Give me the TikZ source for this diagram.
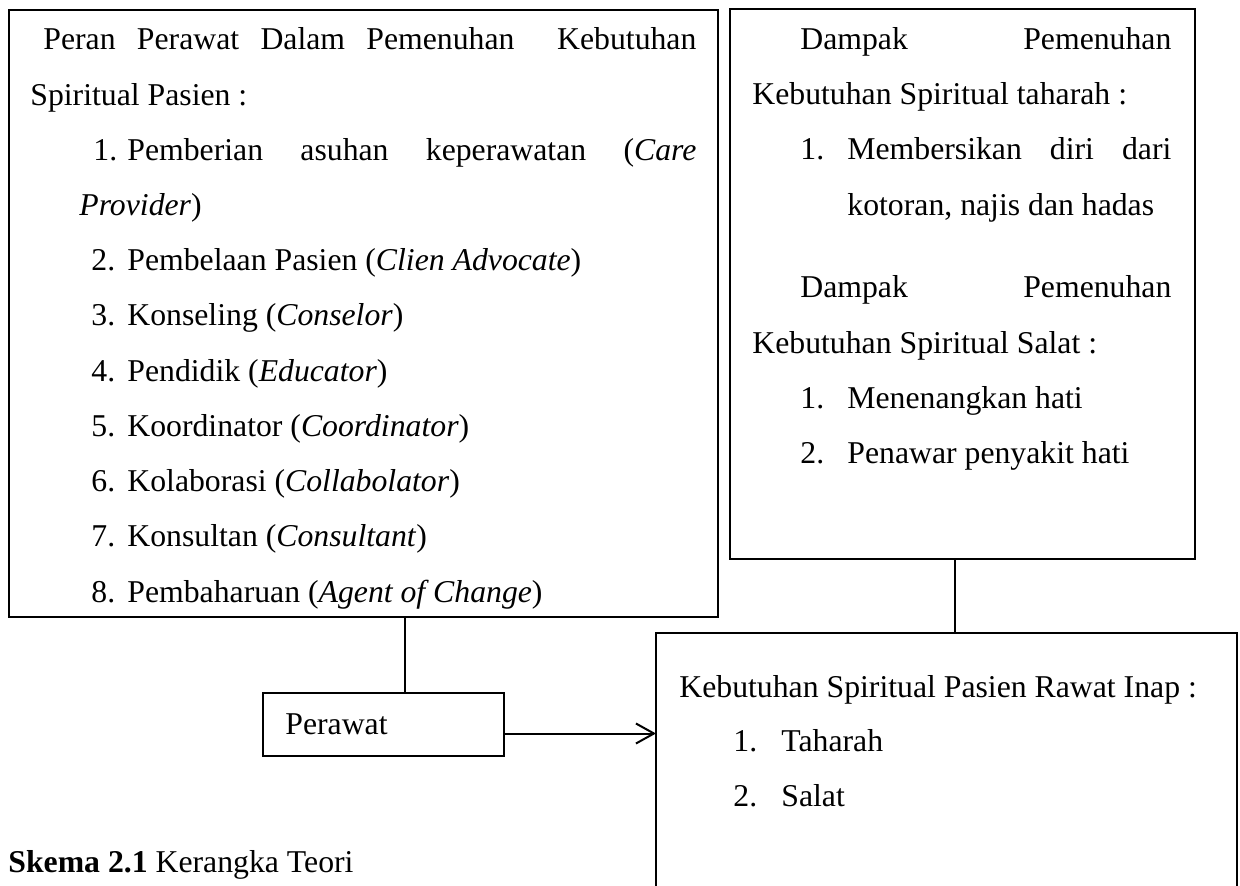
\documentclass[tikz,border=0pt]{standalone}
\usepackage{fontspec}
\setmainfont{Liberation Serif}
\usetikzlibrary{arrows.meta}
\newcommand{\spreadline}[2]{\makebox[#1][s]{#2}}
\tikzset{box/.style={draw=black,line width=1.2pt,inner sep=0pt,outer sep=0pt},
 link/.style={draw=black,line width=1pt},
 txt/.style={anchor=base west,inner sep=0pt,font=\fontsize{15.87pt}{27.6pt}\selectfont},
 every picture/.style={line join=miter}}

\begin{document}
\begin{tikzpicture}[x=0.5pt,y=-0.5pt]
\useasboundingbox (0,0) rectangle (1240,886);
\clip (0,0) rectangle (1240,886);
% boxes
\node[box,minimum width=354.5pt,minimum height=303.5pt] (peran) at (363.5,313.5) {};
\node[box,minimum width=232.5pt,minimum height=275pt] (dampak) at (962.5,284) {};
\node[box,minimum width=120.5pt,minimum height=31.5pt] (perawat) at (383.5,724.5) {};
\node[box,minimum width=290.5pt,minimum height=143.5pt] (kebutuhan) at (946.5,776.5) {};
% left box
\node[txt] (peran0) at (43,50) {\spreadline{326.5pt}{Peran Perawat Dalam Pemenuhan\ \ Kebutuhan}};
\node[txt] (peran1) at (30,105.2) {Spiritual Pasien :};
\node[txt] (peran2n) at (93,160.4) {1.};
\node[txt] (peran2) at (127,160.4) {\spreadline{284.5pt}{Pemberian asuhan keperawatan (\textit{Care}}};
\node[txt] (peran3) at (79,215.6) {\textit{Provider})};
\node[txt] (peran4n) at (91,270.8) {2.};
\node[txt] (peran4) at (127,270.8) {Pembelaan Pasien (\textit{Clien Advocate})};
\node[txt] (peran5n) at (91,326) {3.};
\node[txt] (peran5) at (127,326) {Konseling (\textit{Conselor})};
\node[txt] (peran6n) at (91,381.2) {4.};
\node[txt] (peran6) at (127,381.2) {Pendidik (\textit{Educator})};
\node[txt] (peran7n) at (91,436.4) {5.};
\node[txt] (peran7) at (127,436.4) {Koordinator (\textit{Coordinator})};
\node[txt] (peran8n) at (91,491.6) {6.};
\node[txt] (peran8) at (127,491.6) {Kolaborasi (\textit{Collabolator})};
\node[txt] (peran9n) at (91,546.8) {7.};
\node[txt] (peran9) at (127,546.8) {Konsultan (\textit{Consultant})};
\node[txt] (peran10n) at (91,602) {8.};
\node[txt] (peran10) at (127,602) {Pembaharuan (\textit{Agent of Change})};
% right top box
\node[txt] (dampak0) at (800,50) {\spreadline{185.5pt}{Dampak Pemenuhan}};
\node[txt] (dampak1) at (752,105) {Kebutuhan Spiritual taharah :};
\node[txt] (dampak2n) at (800,160) {1.};
\node[txt] (dampak2) at (847,160) {\spreadline{162pt}{Membersikan diri dari}};
\node[txt] (dampak3) at (847,216) {kotoran, najis dan hadas};
\node[txt] (dampak4) at (800,298) {\spreadline{185.5pt}{Dampak Pemenuhan}};
\node[txt] (dampak5) at (752,354) {Kebutuhan Spiritual Salat :};
\node[txt] (dampak6n) at (800,409) {1.};
\node[txt] (dampak6) at (847,409) {Menenangkan hati};
\node[txt] (dampak7n) at (800,464) {2.};
\node[txt] (dampak7) at (847,464) {Penawar penyakit hati};
% nurse and needs
\node[txt] (perawatlbl) at (285,734) {Perawat};
\node[txt] (kebutuhan0) at (679,697) {Kebutuhan Spiritual Pasien Rawat Inap :};
\node[txt] (kebutuhan1n) at (733,751) {1.};
\node[txt] (kebutuhan1) at (781,751) {Taharah};
\node[txt] (kebutuhan2n) at (733,806) {2.};
\node[txt] (kebutuhan2) at (781,806) {Salat};
% connectors
\coordinate (pjoin) at ([xshift=10.75pt]perawat.north);
\draw[link] (pjoin) -- (pjoin |- peran.south);
\coordinate (pout) at ([yshift=-4.5pt]perawat.east);
\draw[link,-{Straight Barb[length=9pt,width=10pt]}] (pout) -- (pout -| kebutuhan.west);
\coordinate (djoin) at ([xshift=-3.75pt]dampak.south);
\draw[link] (djoin) -- (djoin |- kebutuhan.north);
% caption
\node[txt] (skema) at (8,872) {\textbf{Skema 2.1} Kerangka Teori};
\end{tikzpicture}
\end{document}
